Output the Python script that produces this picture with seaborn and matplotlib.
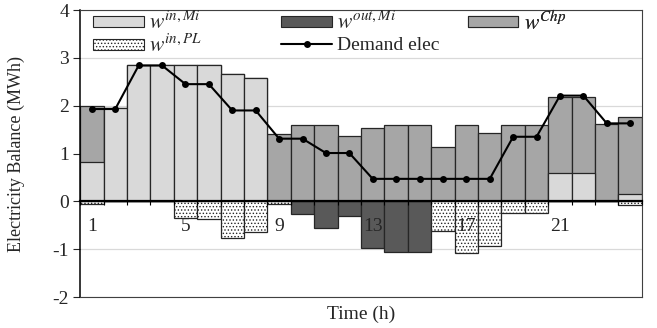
import numpy as np
import pandas as pd
import matplotlib
matplotlib.use("Agg")
from matplotlib import pyplot as plt
from matplotlib.patches import Patch
from matplotlib.lines import Line2D
import seaborn as sns

# values (MWh per hour)
hours = list(range(1, 25))
w_in_mi = [0.83, 1.95, 2.84, 2.84, 2.84, 2.84, 2.67, 2.57, 0, 0, 0, 0,
           0, 0, 0, 0, 0, 0, 0, 0, 0.60, 0.60, 0, 0.15]
w_chp = [1.17, 0, 0, 0, 0, 0, 0, 0, 1.40, 1.60, 1.60, 1.36,
         1.53, 1.60, 1.60, 1.13, 1.60, 1.43, 1.60, 1.60, 1.59, 1.59, 1.62, 1.61]
w_out_mi = [0, 0, 0, 0, 0, 0, 0, 0, 0, -0.27, -0.55, -0.31,
            -0.97, -1.05, -1.05, 0, 0, 0, 0, 0, 0, 0, 0, 0]
w_in_pl = [-0.06, 0, 0, 0, -0.34, -0.37, -0.76, -0.64, -0.06, 0, 0, 0,
           0, 0, 0, -0.62, -1.09, -0.93, -0.24, -0.24, 0, 0, 0, -0.08]
demand = [1.93, 1.93, 2.84, 2.84, 2.45, 2.45, 1.90, 1.90, 1.31, 1.31, 1.01, 1.01,
          0.47, 0.47, 0.47, 0.47, 0.47, 0.47, 1.35, 1.35, 2.21, 2.21, 1.63, 1.63]
hour_labels = [1, 5, 9, 13, 17, 21]

LIGHT = '#d9d9d9'
CHP = '#a6a6a6'
DARK = '#595959'
EDGE = '#262626'

df = pd.DataFrame({'hour': hours, 'w_in_mi': w_in_mi, 'w_chp': w_chp,
                   'w_out_mi': w_out_mi, 'w_in_pl': w_in_pl, 'demand': demand})
df['pos_total'] = df['w_in_mi'] + df['w_chp']

sns.set_theme(style='white')
plt.rcParams['font.family'] = ['Liberation Serif', 'DejaVu Serif']
plt.rcParams['mathtext.fontset'] = 'stix'
plt.rcParams['hatch.linewidth'] = 0.6
plt.rcParams['axes.unicode_minus'] = False

fig = plt.figure(figsize=(6.57, 3.28), dpi=100)
ax = fig.add_axes([0.122, 0.0945, 0.855, 0.875])

barkw = dict(native_scale=True, width=1, edgecolor=EDGE, linewidth=0.9,
             saturation=1, errorbar=None, ax=ax)
# stacked positives: draw total first (chp colour), then in,Mi over it
sns.barplot(data=df, x='hour', y='pos_total', color=CHP, **barkw)
sns.barplot(data=df, x='hour', y='w_in_mi', color=LIGHT, **barkw)
sns.barplot(data=df, x='hour', y='w_out_mi', color=DARK, **barkw)
sns.barplot(data=df, x='hour', y='w_in_pl', color='white', hatch='.....', **barkw)
sns.lineplot(data=df, x='hour', y='demand', color='black', marker='o',
             markersize=5, markeredgewidth=0, linewidth=1.5, ax=ax, zorder=4)

ax.set_xlim(0.5, 24.5)
ax.set_ylim(-2, 4)
ax.set_yticks(range(-2, 5))
ax.set_xticks([])
ax.yaxis.grid(True, color='#d9d9d9', linewidth=0.9)
ax.set_axisbelow(True)
ax.tick_params(axis='y', left=True, length=5, width=0.8, direction='out',
               pad=3, labelsize=14, colors='#262626')
for side in ['top', 'right', 'bottom']:
    ax.spines[side].set_color('#404040')
    ax.spines[side].set_linewidth(0.8)
ax.spines['left'].set_color('black')
ax.spines['left'].set_linewidth(1.1)

# hour labels hang from the zero line
sec = ax.secondary_xaxis(1 / 3)
sec.set_zorder(3)
sec.set_xticks(hour_labels)
sec.set_xticks(np.arange(0.5, 25, 1), minor=True)
sec.tick_params(axis='x', which='major', length=0, pad=12, labelsize=14, colors='#262626')
sec.tick_params(axis='x', which='minor', length=3, width=0.8, direction='out', color='black')
sec.spines['bottom'].set_linewidth(1.6)
sec.spines['bottom'].set_color('black')

ax.set_ylabel('Electricity Balance (MWh)', fontsize=13, color='#262626')
ax.yaxis.set_label_coords(-0.098, 0.5)
ax.set_xlabel('Time (h)', fontsize=14, color='#262626')
ax.xaxis.set_label_coords(0.5, -0.03)

# legend laid out like the original, one entry per slot
entries = [
    (Patch(facecolor=LIGHT, edgecolor=EDGE, linewidth=0.8), r'$w^{in,Mi}$', 0.023, 0.955, 15.5),
    (Patch(facecolor='white', edgecolor=EDGE, linewidth=0.8, hatch='.....'), r'$w^{in,PL}$', 0.023, 0.876, 15.5),
    (Patch(facecolor=DARK, edgecolor=EDGE, linewidth=0.8), r'$w^{out,Mi}$', 0.358, 0.955, 15.5),
    (Line2D([], [], color='black', marker='o', markersize=5, markeredgewidth=0, linewidth=1.5),
     'Demand elec', 0.358, 0.876, 14),
    (Patch(facecolor=CHP, edgecolor=EDGE, linewidth=0.8), r'$w^{Chp}$', 0.690, 0.955, 15.5),
]
for handle, label, lx, ly, fsize in entries:
    leg = ax.legend([handle], [label], loc='center left', bbox_to_anchor=(lx, ly),
                    frameon=False, borderpad=0, borderaxespad=0, fontsize=fsize,
                    handlelength=2.6 * 14 / fsize, handleheight=0.45 * 14 / fsize,
                    handletextpad=0.25, labelcolor='#262626')
    ax.add_artist(leg)

fig.savefig('out.png', dpi=100)
